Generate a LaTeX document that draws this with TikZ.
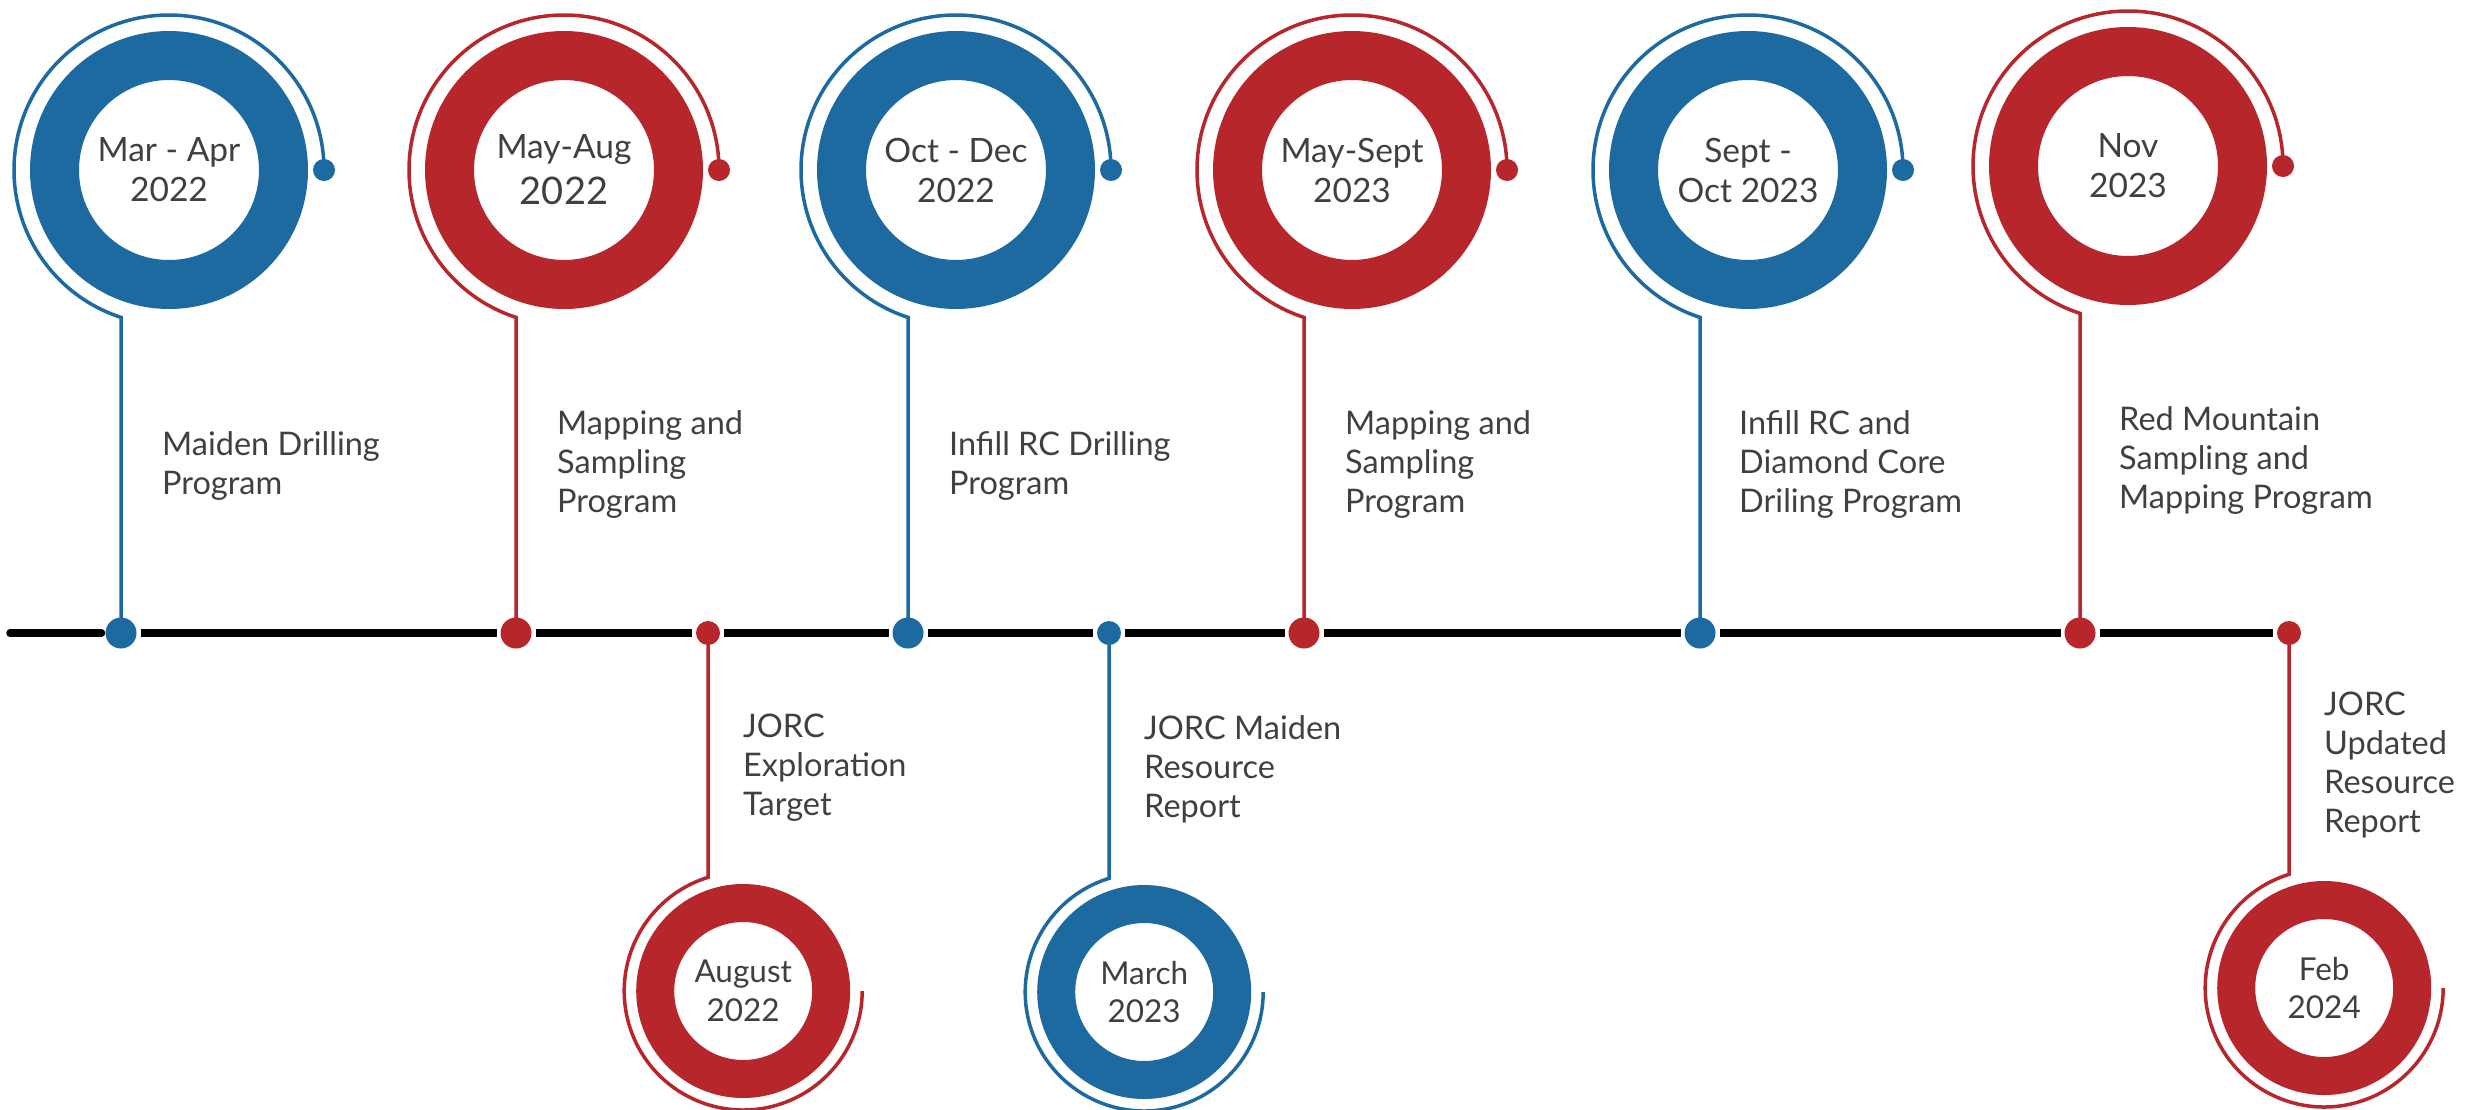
\documentclass[tikz,border=0pt]{standalone}
\usepackage{fontspec}
\setmainfont{Lato}
\definecolor{cblue}{HTML}{1D6AA0}
\definecolor{cred}{HTML}{B6262B}
\definecolor{ctext}{HTML}{404040}
\begin{document}
\begin{tikzpicture}[x=1pt,y=-1pt,
  bigring/.style={circle, draw=#1, line width=49pt, minimum size=229pt, inner sep=0pt,
    text=ctext, align=center, font=\fontsize{33.5}{40}\selectfont},
  smallring/.style={circle, draw=#1, line width=38pt, minimum size=176pt, inner sep=0pt,
    text=ctext, align=center, font=\fontsize{31.5}{38.5}\selectfont},
  enddot/.style={circle, fill=#1, minimum size=22pt, inner sep=0pt},
  bigdot/.style={circle, fill=#1, minimum size=31pt, inner sep=0pt, outer sep=4pt},
  smalldot/.style={circle, fill=#1, minimum size=24pt, inner sep=0pt, outer sep=4pt},
  thinline/.style={draw=#1, line width=3.5pt},
  timeline/.style={draw=black, line width=7.5pt},
  evtext/.style={anchor=base west, align=left, inner sep=0pt, text=ctext,
    font=\fontsize{32.5}{38.7}\selectfont}
]
\fill[white] (0,0) rectangle (2473,1109);
\useasboundingbox (0,0) rectangle (2473,1109);

% timeline dots
\coordinate (t0) at (10,633);
\node[bigdot=cblue]  (t1) at (121,633) {};
\node[bigdot=cred]   (t2) at (516,633) {};
\node[smalldot=cred] (t3) at (708,633) {};
\node[bigdot=cblue]  (t4) at (908,633) {};
\node[smalldot=cblue](t5) at (1109,633) {};
\node[bigdot=cred]   (t6) at (1304,633) {};
\node[bigdot=cblue]  (t7) at (1700,633) {};
\node[bigdot=cred]   (t8) at (2080,633) {};
\node[smalldot=cred] (t9) at (2289,633) {};

% timeline segments
\draw[timeline, line cap=round] (t0) -- (t1);
\foreach \a/\b in {t1/t2,t2/t3,t3/t4,t4/t5,t5/t6,t6/t7,t7/t8,t8/t9}
  \draw[timeline] (\a) -- (\b);

% top rings
\node[bigring=cblue] (m1) at (169,170) {Mar - Apr\\2022};
\node[bigring=cred]  (m2) at (564,170) {May-Aug\\[6pt]{\fontsize{38}{40}\selectfont 2022}};
\node[bigring=cblue] (m3) at (956,170) {Oct - Dec\\2022};
\node[bigring=cred]  (m4) at (1352,170) {May-Sept\\2023};
\node[bigring=cblue] (m5) at (1748,170) {Sept -\\Oct 2023};
\node[bigring=cred]  (m6) at (2128,166) {Nov\\2023};

% end dots of top arcs
\node[enddot=cblue] (e1) at (324,170) {};
\node[enddot=cred]  (e2) at (719,170) {};
\node[enddot=cblue] (e3) at (1111,170) {};
\node[enddot=cred]  (e4) at (1507,170) {};
\node[enddot=cblue] (e5) at (1903,170) {};
\node[enddot=cred]  (e6) at (2283,166) {};

% top arcs and stems
\draw[thinline=cblue] (e1.center) arc[start angle=0, end angle=-252, radius=155] -- (t1.center);
\draw[thinline=cred]  (e2.center) arc[start angle=0, end angle=-252, radius=155] -- (t2.center);
\draw[thinline=cblue] (e3.center) arc[start angle=0, end angle=-252, radius=155] -- (t4.center);
\draw[thinline=cred]  (e4.center) arc[start angle=0, end angle=-252, radius=155] -- (t6.center);
\draw[thinline=cblue] (e5.center) arc[start angle=0, end angle=-252, radius=155] -- (t7.center);
\draw[thinline=cred]  (e6.center) arc[start angle=0, end angle=-252, radius=155] -- (t8.center);

% bottom rings
\node[smallring=cred]  (b1) at (743.2,991) {August\\2022};
\node[smallring=cblue] (b2) at (1144.2,992) {March\\2023};
\node[smallring=cred]  (b3) at (2324.2,988) {Feb\\2024};

% bottom stems and arcs
\draw[thinline=cred]  (t3.center) -- ([shift={(-107.2:119)}]b1.center) arc[start angle=-107.2, end angle=-360, radius=119];
\draw[thinline=cblue] (t5.center) -- ([shift={(-107.2:119)}]b2.center) arc[start angle=-107.2, end angle=-360, radius=119];
\draw[thinline=cred]  (t9.center) -- ([shift={(-107.2:119)}]b3.center) arc[start angle=-107.2, end angle=-360, radius=119];

% labels (anchor = baseline of last line)
\node[evtext] (l1) at (162,494) {Maiden Drilling\\Program};
\node[evtext] (l2) at (557,512) {Mapping and\\Sampling\\Program};
\node[evtext] (l3) at (949,494) {Infill RC Drilling\\Program};
\node[evtext] (l4) at (1345,512) {Mapping and\\Sampling\\Program};
\node[evtext] (l5) at (1739,512) {Infill RC and\\Diamond Core\\Driling Program};
\node[evtext] (l6) at (2119,508) {Red Mountain\\Sampling and\\Mapping Program};
\node[evtext] (l7) at (743,815) {JORC\\Exploration\\Target};
\node[evtext] (l8) at (1144,817) {JORC Maiden\\Resource\\Report};
\node[evtext] (l9) at (2324,832) {JORC\\Updated\\Resource\\Report};
\end{tikzpicture}
\end{document}
